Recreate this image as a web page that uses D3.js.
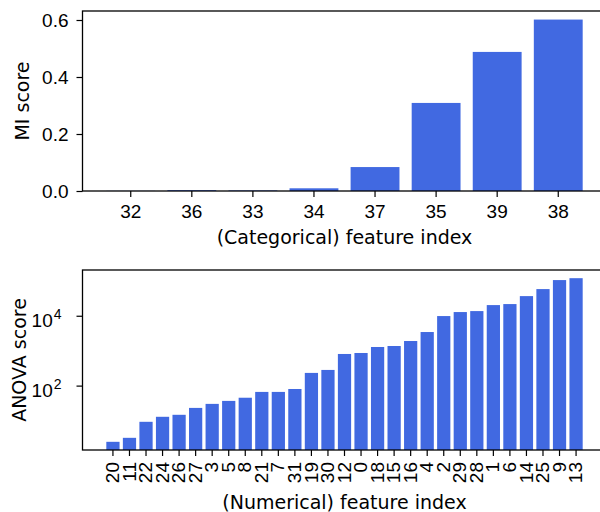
<!DOCTYPE html>
<html>
<head>
<meta charset="utf-8">
<script src="https://cdn.jsdelivr.net/npm/d3@7"></script>
<style>
  body { margin: 0; background: #fff; }
  svg { display: block; font-family: 'DejaVu Sans', sans-serif; }
  .axis path, .axis line { stroke: #000; stroke-width: 1.2; }
  .axis text { fill: #000; font-size: 19px; }
  .label { font-size: 19px; fill: #000; }
</style>
</head>
<body>
<div id="chart"></div>
<script>
  // Categorical features, sorted by mutual information score.
  var catFeatures = ['32', '36', '33', '34', '37', '35', '39', '38'];
  var miScores = [0.0005, 0.003, 0.002, 0.0095, 0.084, 0.309, 0.488, 0.6015];
  var miTicks = [0, 0.2, 0.4, 0.6];

  // Numerical features, sorted by ANOVA F score.
  var numFeatures = ['20', '11', '22', '24', '26', '27', '3', '5', '8', '21', '7', '31', '19', '30',
    '12', '0', '18', '15', '16', '4', '2', '29', '28', '1', '6', '14', '25', '9', '13'];
  var anovaScores = [2.46, 3.2, 9.2, 12.8, 14.6, 23, 30, 36.5, 45, 66, 66, 80, 231, 281,
    805, 859, 1275, 1361, 1891, 3420, 9800, 12760, 13600, 20200, 21600, 36500, 58000, 105000, 119000];
  var anovaTicks = [100, 10000];

  var width = 600;
  var height = 512;
  var left = 82.5;
  var right = 606.5; // the right spine falls just outside the picture
  var barColor = '#4169e1';
  var tickSize = 6;

  var svg = d3.select('#chart')
    .append('svg')
    .attr('width', width)
    .attr('height', height);

  svg.append('rect')
    .attr('width', width)
    .attr('height', height)
    .attr('fill', '#fff');

  function bandScale(domain) {
    // matplotlib style: bars 0.8 wide, 5% margin on each side
    return d3.scaleBand()
      .domain(domain)
      .range([left, right])
      .paddingInner(0.2)
      .paddingOuter(0.05 * (domain.length - 0.2));
  }

  function frame(g, top, bottom) {
    g.append('rect')
      .attr('x', left)
      .attr('y', top)
      .attr('width', right - left)
      .attr('height', bottom - top)
      .attr('fill', 'none')
      .attr('stroke', '#000')
      .attr('stroke-width', 1.3);
  }

  // --- Top panel: MI scores ---
  var top1 = 11;
  var bottom1 = 191;
  var x1 = bandScale(catFeatures);
  var y1 = d3.scaleLinear()
    .domain([0, d3.max(miScores) * 1.05])
    .range([bottom1, top1]);

  var g1 = svg.append('g');

  g1.selectAll('.bar')
    .data(miScores)
    .enter().append('rect')
    .attr('class', 'bar')
    .attr('x', function(d, i) { return x1(catFeatures[i]); })
    .attr('width', x1.bandwidth())
    .attr('y', function(d) { return y1(d); })
    .attr('height', function(d) { return bottom1 - y1(d); })
    .attr('fill', barColor);

  g1.append('g')
    .attr('class', 'x axis')
    .attr('transform', 'translate(0,' + bottom1 + ')')
    .call(d3.axisBottom(x1).tickSize(tickSize).tickPadding(8).tickSizeOuter(0))
    .call(function(a) { a.select('.domain').remove(); });

  g1.append('g')
    .attr('class', 'y axis')
    .attr('transform', 'translate(' + left + ',0)')
    .call(d3.axisLeft(y1).tickValues(miTicks).tickFormat(d3.format('.1f')).tickSize(tickSize).tickPadding(8))
    .call(function(a) { a.select('.domain').remove(); });

  frame(g1, top1, bottom1);

  g1.append('text')
    .attr('class', 'label')
    .attr('text-anchor', 'middle')
    .attr('x', (left + right) / 2)
    .attr('y', 244)
    .text('(Categorical) feature index');

  g1.append('text')
    .attr('class', 'label')
    .attr('text-anchor', 'middle')
    .attr('transform', 'translate(29,' + (top1 + bottom1) / 2 + ') rotate(-90)')
    .text('MI score');

  // --- Bottom panel: ANOVA scores (log scale) ---
  var top2 = 270;
  var bottom2 = 450;
  var x2 = bandScale(numFeatures);
  var lo = Math.log10(d3.min(anovaScores));
  var hi = Math.log10(d3.max(anovaScores));
  var pad = 0.05 * (hi - lo);
  var y2 = d3.scaleLog()
    .domain([Math.pow(10, lo - pad), Math.pow(10, hi + pad)])
    .range([bottom2, top2]);

  var g2 = svg.append('g');

  g2.selectAll('.bar')
    .data(anovaScores)
    .enter().append('rect')
    .attr('class', 'bar')
    .attr('x', function(d, i) { return x2(numFeatures[i]); })
    .attr('width', x2.bandwidth())
    .attr('y', function(d) { return y2(d); })
    .attr('height', function(d) { return bottom2 - y2(d); })
    .attr('fill', barColor);

  var xAxis2 = g2.append('g')
    .attr('class', 'x axis')
    .attr('transform', 'translate(0,' + bottom2 + ')')
    .call(d3.axisBottom(x2).tickSize(tickSize).tickSizeOuter(0));
  xAxis2.select('.domain').remove();

  // Rotated tick labels, reading upwards and ending just below the tick.
  xAxis2.selectAll('.tick text')
    .attr('text-anchor', 'end')
    .attr('transform', 'rotate(-90)')
    .attr('x', -(tickSize + 6))
    .attr('y', 0)
    .attr('dy', '0.32em');

  var yAxis2 = g2.append('g')
    .attr('class', 'y axis')
    .attr('transform', 'translate(' + left + ',0)')
    .call(d3.axisLeft(y2).tickValues(anovaTicks).tickSize(tickSize).tickPadding(15));
  yAxis2.select('.domain').remove();

  // Write the tick labels as 10 with a superscript exponent.
  yAxis2.selectAll('.tick text').each(function(d) {
    var t = d3.select(this).attr('dy', '0.56em').text('');
    t.append('tspan').text('10');
    t.append('tspan')
      .attr('dx', '1')
      .attr('dy', '-7.5')
      .attr('font-size', '14px')
      .text(Math.round(Math.log10(d)));
  });

  frame(g2, top2, bottom2);

  g2.append('text')
    .attr('class', 'label')
    .attr('text-anchor', 'middle')
    .attr('x', (left + right) / 2)
    .attr('y', 509)
    .text('(Numerical) feature index');

  g2.append('text')
    .attr('class', 'label')
    .attr('text-anchor', 'middle')
    .attr('transform', 'translate(25.5,' + (top2 + bottom2) / 2 + ') rotate(-90)')
    .text('ANOVA score');
</script>
</body>
</html>
